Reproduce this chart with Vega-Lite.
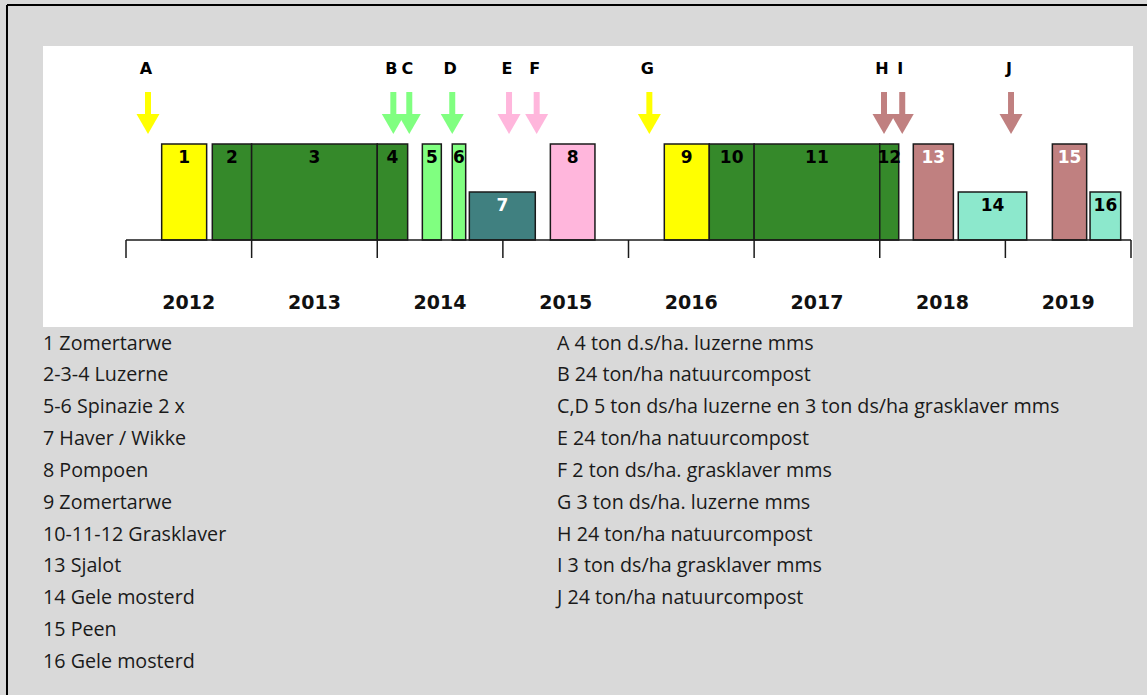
{
  "$schema": "https://vega.github.io/schema/vega-lite/v6.json",
  "width": 1090,
  "height": 281,
  "autosize": {"type": "none"},
  "padding": {"left": 43, "top": 46, "right": 14, "bottom": 368},
  "background": "#d9d9d9",
  "config": {"view": {"fill": "white", "stroke": null}, "font": "DejaVu Sans"},
  "datasets": {
    "gewassen": [
      {"nr": "1", "gewas": "Zomertarwe", "start": 2012.284, "eind": 2012.642, "mid": 2012.463, "h": 2},
      {"nr": "2", "gewas": "Luzerne", "start": 2012.687, "eind": 2013.0, "mid": 2012.8435, "h": 2},
      {"nr": "3", "gewas": "Luzerne", "start": 2013.0, "eind": 2014.0, "mid": 2013.5, "h": 2},
      {"nr": "4", "gewas": "Luzerne", "start": 2014.0, "eind": 2014.242, "mid": 2014.121, "h": 2},
      {"nr": "5", "gewas": "Spinazie", "start": 2014.359, "eind": 2014.51, "mid": 2014.4345, "h": 2},
      {"nr": "6", "gewas": "Spinazie", "start": 2014.597, "eind": 2014.704, "mid": 2014.6505, "h": 2},
      {"nr": "7", "gewas": "Haver / Wikke", "start": 2014.733, "eind": 2015.258, "mid": 2014.9955, "h": 1},
      {"nr": "8", "gewas": "Pompoen", "start": 2015.378, "eind": 2015.733, "mid": 2015.5555, "h": 2},
      {"nr": "9", "gewas": "Zomertarwe", "start": 2016.285, "eind": 2016.643, "mid": 2016.464, "h": 2},
      {"nr": "10", "gewas": "Grasklaver", "start": 2016.643, "eind": 2017.0, "mid": 2016.8215, "h": 2},
      {"nr": "11", "gewas": "Grasklaver", "start": 2017.0, "eind": 2018.0, "mid": 2017.5, "h": 2},
      {"nr": "12", "gewas": "Grasklaver", "start": 2018.0, "eind": 2018.151, "mid": 2018.0755, "h": 2},
      {"nr": "13", "gewas": "Sjalot", "start": 2018.267, "eind": 2018.586, "mid": 2018.4265, "h": 2},
      {"nr": "14", "gewas": "Gele mosterd", "start": 2018.625, "eind": 2019.17, "mid": 2018.8975, "h": 1},
      {"nr": "15", "gewas": "Peen", "start": 2019.374, "eind": 2019.647, "mid": 2019.5105, "h": 2},
      {"nr": "16", "gewas": "Gele mosterd", "start": 2019.674, "eind": 2019.918, "mid": 2019.796, "h": 1}
    ],
    "bemesting": [
      {"code": "A", "t": 2012.175, "gewas": "Zomertarwe"},
      {"code": "B", "t": 2014.128, "gewas": "Spinazie"},
      {"code": "C", "t": 2014.255, "gewas": "Spinazie"},
      {"code": "D", "t": 2014.597, "gewas": "Spinazie"},
      {"code": "E", "t": 2015.049, "gewas": "Pompoen"},
      {"code": "F", "t": 2015.269, "gewas": "Pompoen"},
      {"code": "G", "t": 2016.166, "gewas": "Zomertarwe"},
      {"code": "H", "t": 2018.034, "gewas": "Sjalot"},
      {"code": "I", "t": 2018.179, "gewas": "Sjalot"},
      {"code": "J", "t": 2019.045, "gewas": "Sjalot"}
    ],
    "jaren": [
      {"jaar": 2012, "label": "2012"},
      {"jaar": 2013, "label": "2013"},
      {"jaar": 2014, "label": "2014"},
      {"jaar": 2015, "label": "2015"},
      {"jaar": 2016, "label": "2016"},
      {"jaar": 2017, "label": "2017"},
      {"jaar": 2018, "label": "2018"},
      {"jaar": 2019, "label": "2019"},
      {"jaar": 2020, "label": ""}
    ],
    "toelichting": [
      {"kolom": 1, "rij": 1, "tekst": "1 Zomertarwe"},
      {"kolom": 1, "rij": 2, "tekst": "2-3-4 Luzerne"},
      {"kolom": 1, "rij": 3, "tekst": "5-6 Spinazie 2 x"},
      {"kolom": 1, "rij": 4, "tekst": "7 Haver / Wikke"},
      {"kolom": 1, "rij": 5, "tekst": "8 Pompoen"},
      {"kolom": 1, "rij": 6, "tekst": "9 Zomertarwe"},
      {"kolom": 1, "rij": 7, "tekst": "10-11-12 Grasklaver"},
      {"kolom": 1, "rij": 8, "tekst": "13 Sjalot"},
      {"kolom": 1, "rij": 9, "tekst": "14 Gele mosterd"},
      {"kolom": 1, "rij": 10, "tekst": "15 Peen"},
      {"kolom": 1, "rij": 11, "tekst": "16 Gele mosterd"},
      {"kolom": 2, "rij": 1, "tekst": "A 4 ton d.s/ha. luzerne mms"},
      {"kolom": 2, "rij": 2, "tekst": "B 24 ton/ha natuurcompost"},
      {"kolom": 2, "rij": 3, "tekst": "C,D 5 ton ds/ha luzerne en 3 ton ds/ha grasklaver mms"},
      {"kolom": 2, "rij": 4, "tekst": "E 24 ton/ha natuurcompost"},
      {"kolom": 2, "rij": 5, "tekst": "F 2 ton ds/ha. grasklaver mms"},
      {"kolom": 2, "rij": 6, "tekst": "G 3 ton ds/ha. luzerne mms"},
      {"kolom": 2, "rij": 7, "tekst": "H 24 ton/ha natuurcompost"},
      {"kolom": 2, "rij": 8, "tekst": "I 3 ton ds/ha grasklaver mms"},
      {"kolom": 2, "rij": 9, "tekst": "J 24 ton/ha natuurcompost"}
    ]
  },
  "layer": [
    {
      "layer": [
        {
          "data": {"values": [{}]},
          "mark": {"type": "rule", "color": "#000000", "strokeWidth": 2},
          "encoding": {
            "x": {"datum": 2011.0527, "type": "quantitative", "scale": {"domain": [2011.3393, 2020.0159], "nice": false, "zero": false}, "axis": null},
            "x2": {"datum": 2020.2},
            "y": {"datum": 4.896, "type": "quantitative", "scale": {"domain": [-1.8125, 4.0417], "nice": false, "zero": false}, "axis": null}
          }
        },
        {
          "data": {"values": [{}]},
          "mark": {"type": "rule", "color": "#000000", "strokeWidth": 2},
          "encoding": {
            "x": {"datum": 2011.0527, "type": "quantitative", "scale": {"domain": [2011.3393, 2020.0159], "nice": false, "zero": false}, "axis": null},
            "y": {"datum": 4.896, "type": "quantitative", "scale": {"domain": [-1.8125, 4.0417], "nice": false, "zero": false}, "axis": null},
            "y2": {"datum": -9.6}
          }
        },
        {
          "data": {"name": "gewassen"},
          "mark": {"type": "bar", "stroke": "#1a1a1a", "strokeWidth": 1.5, "opacity": 1},
          "encoding": {
            "x": {"field": "start", "type": "quantitative", "scale": {"domain": [2011.3393, 2020.0159], "nice": false, "zero": false}, "axis": null},
            "x2": {"field": "eind"},
            "y": {"field": "h", "type": "quantitative", "scale": {"domain": [-1.8125, 4.0417], "nice": false, "zero": false}, "axis": null},
            "y2": {"datum": 0},
            "color": {
              "field": "gewas", "type": "nominal", "legend": null,
              "scale": {
                "domain": ["Zomertarwe", "Luzerne", "Spinazie", "Haver / Wikke", "Pompoen", "Grasklaver", "Sjalot", "Gele mosterd", "Peen"],
                "range": ["#ffff00", "#35892a", "#80ff80", "#408080", "#ffb6dc", "#35892a", "#c08080", "#8ce8cc", "#c08080"]
              }
            }
          }
        },
        {
          "data": {"name": "gewassen"},
          "mark": {"type": "text", "fontWeight": "bold", "fontSize": 17, "dy": 13.5, "font": "DejaVu Sans"},
          "encoding": {
            "x": {"field": "mid", "type": "quantitative", "scale": {"domain": [2011.3393, 2020.0159], "nice": false, "zero": false}, "axis": null},
            "y": {"field": "h", "type": "quantitative", "scale": {"domain": [-1.8125, 4.0417], "nice": false, "zero": false}, "axis": null},
            "text": {"field": "nr"},
            "color": {"condition": {"test": "datum.nr === '7' || datum.nr === '13' || datum.nr === '15'", "value": "#ffffff"}, "value": "#000000"}
          }
        },
        {
          "data": {"name": "bemesting"},
          "mark": {"type": "rule", "strokeWidth": 6},
          "encoding": {
            "x": {"field": "t", "type": "quantitative", "scale": {"domain": [2011.3393, 2020.0159], "nice": false, "zero": false}, "axis": null},
            "y": {"datum": 3.083, "type": "quantitative", "scale": {"domain": [-1.8125, 4.0417], "nice": false, "zero": false}, "axis": null},
            "y2": {"datum": 2.5},
            "color": {"field": "gewas", "type": "nominal", "legend": null}
          }
        },
        {
          "data": {"name": "bemesting"},
          "mark": {"type": "point", "shape": "triangle-down", "filled": true, "size": 529, "opacity": 1, "strokeWidth": 0},
          "encoding": {
            "x": {"field": "t", "type": "quantitative", "scale": {"domain": [2011.3393, 2020.0159], "nice": false, "zero": false}, "axis": null},
            "y": {"datum": 2.4167, "type": "quantitative", "scale": {"domain": [-1.8125, 4.0417], "nice": false, "zero": false}, "axis": null},
            "color": {"field": "gewas", "type": "nominal", "legend": null}
          }
        },
        {
          "data": {"name": "bemesting"},
          "mark": {"type": "text", "fontWeight": "bold", "fontSize": 16, "dx": -2, "color": "#000000", "font": "DejaVu Sans"},
          "encoding": {
            "x": {"field": "t", "type": "quantitative", "scale": {"domain": [2011.3393, 2020.0159], "nice": false, "zero": false}, "axis": null},
            "y": {"datum": 3.5625, "type": "quantitative", "scale": {"domain": [-1.8125, 4.0417], "nice": false, "zero": false}, "axis": null},
            "text": {"field": "code"}
          }
        },
        {
          "data": {"values": [{}]},
          "mark": {"type": "rule", "color": "#1a1a1a", "strokeWidth": 1.5},
          "encoding": {
            "x": {"datum": 2012, "type": "quantitative", "scale": {"domain": [2011.3393, 2020.0159], "nice": false, "zero": false}, "axis": null},
            "x2": {"datum": 2020},
            "y": {"datum": 0, "type": "quantitative", "scale": {"domain": [-1.8125, 4.0417], "nice": false, "zero": false}, "axis": null}
          }
        },
        {
          "data": {"name": "jaren"},
          "mark": {"type": "rule", "color": "#1a1a1a", "strokeWidth": 1.5},
          "encoding": {
            "x": {"field": "jaar", "type": "quantitative", "scale": {"domain": [2011.3393, 2020.0159], "nice": false, "zero": false}, "axis": null},
            "y": {"datum": 0, "type": "quantitative", "scale": {"domain": [-1.8125, 4.0417], "nice": false, "zero": false}, "axis": null},
            "y2": {"datum": -0.375}
          }
        },
        {
          "data": {"name": "jaren"},
          "mark": {"type": "text", "fontWeight": "bold", "fontSize": 19, "dx": 62.8, "color": "#111111", "font": "DejaVu Sans"},
          "encoding": {
            "x": {"field": "jaar", "type": "quantitative", "scale": {"domain": [2011.3393, 2020.0159], "nice": false, "zero": false}, "axis": null},
            "y": {"datum": -1.3125, "type": "quantitative", "scale": {"domain": [-1.8125, 4.0417], "nice": false, "zero": false}, "axis": null},
            "text": {"field": "label"}
          }
        }
      ]
    },
    {
      "data": {"name": "toelichting"},
      "mark": {"type": "text", "align": "left", "baseline": "alphabetic", "font": "Open Sans", "fontSize": 19.7, "color": "#1a1a1a"},
      "encoding": {
        "x": {"field": "kolom", "type": "quantitative", "scale": {"domain": [1, 2], "range": [0, 514]}, "axis": null},
        "y": {"field": "rij", "type": "quantitative", "scale": {"domain": [1, 11], "range": [303.5, 621.9]}, "axis": null},
        "text": {"field": "tekst"}
      }
    }
  ],
  "resolve": {"scale": {"x": "independent", "y": "independent"}}
}
